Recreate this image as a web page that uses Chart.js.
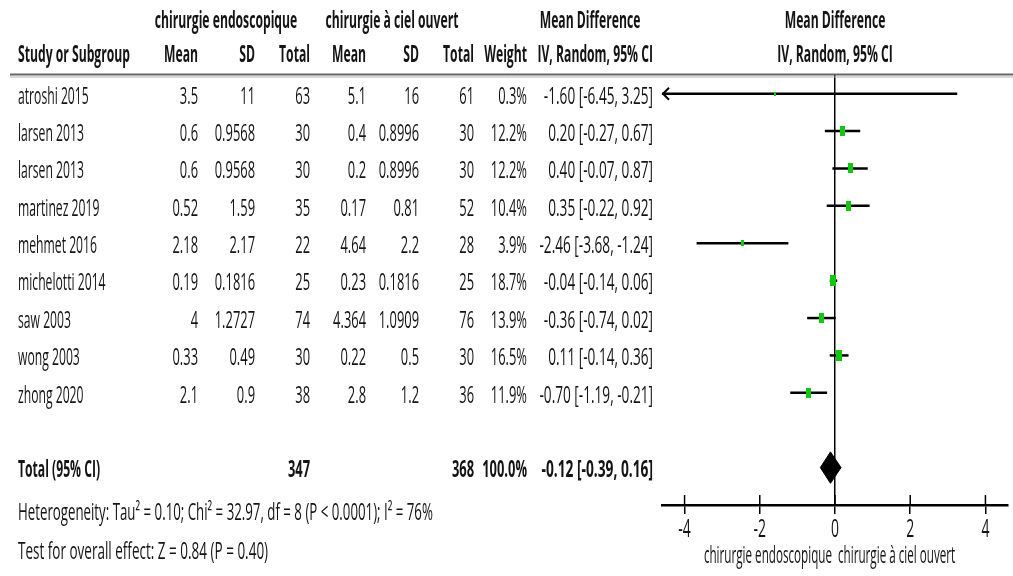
<!DOCTYPE html>
<html>
<head>
<meta charset="utf-8">
<script src="https://cdn.jsdelivr.net/npm/chart.js@4/dist/chart.umd.min.js"></script>
<style>
  body { margin: 0; background: #fff; }
  canvas { display: block; }
</style>
</head>
<body>
<canvas id="chart" width="1013" height="576"></canvas>
<script>
const studies = ["atroshi 2015", "larsen 2013", "larsen 2013", "martinez 2019", "mehmet 2016",
  "michelotti 2014", "saw 2003", "wong 2003", "zhong 2020"];
const endoMean = [3.5, 0.6, 0.6, 0.52, 2.18, 0.19, 4, 0.33, 2.1];
const endoSd = [11, 0.9568, 0.9568, 1.59, 2.17, 0.1816, 1.2727, 0.49, 0.9];
const endoN = [63, 30, 30, 35, 22, 25, 74, 30, 38];
const openMean = [5.1, 0.4, 0.2, 0.17, 4.64, 0.23, 4.364, 0.22, 2.8];
const openSd = [16, 0.8996, 0.8996, 0.81, 2.2, 0.1816, 1.0909, 0.5, 1.2];
const openN = [61, 30, 30, 52, 28, 25, 76, 30, 36];
const weight = [0.3, 12.2, 12.2, 10.4, 3.9, 18.7, 13.9, 16.5, 11.9];
const md = [-1.60, 0.20, 0.40, 0.35, -2.46, -0.04, -0.36, 0.11, -0.70];
const ciLow = [-6.45, -0.27, -0.07, -0.22, -3.68, -0.14, -0.74, -0.14, -1.19];
const ciHigh = [3.25, 0.67, 0.87, 0.92, -1.24, 0.06, 0.02, 0.36, -0.21];

const totalEndoN = 347;
const totalOpenN = 368;
const totalWeight = 100.0;
const totalMd = -0.12;
const totalLow = -0.39;
const totalHigh = 0.16;

const xTicks = [-4, -2, 0, 2, 4];
const heterogeneity = "Heterogeneity: Tau² = 0.10; Chi² = 32.97, df = 8 (P < 0.0001); I² = 76%";
const overallTest = "Test for overall effect: Z = 0.84 (P = 0.40)";
const favoursLeft = "chirurgie endoscopique";
const favoursRight = "chirurgie à ciel ouvert";

const totalRow = studies.length + 1;
const green = "#10c810";
const ink = "#141414";
const FONT = '"Open Sans", "Liberation Sans", sans-serif';

// small green boxes, size follows study weight
function marker(w) {
  const c = document.createElement("canvas");
  const side = Math.max(2, Math.round(Math.sqrt(w) * 1.4));
  c.width = side;
  c.height = Math.round(side * 1.9);
  const g = c.getContext("2d");
  g.fillStyle = green;
  g.fillRect(0, 0, c.width, c.height);
  return c;
}

const fmt = v => v.toFixed(2);
const ciText = (m, l, h) => fmt(m) + " [" + fmt(l) + ", " + fmt(h) + "]";

let SX = null;
// narrow text: regular font squeezed horizontally
function txt(ctx, s, x, y, align, bold, size, wide) {
  ctx.save();
  ctx.font = (bold ? "bold " : "") + size + "px " + FONT;
  ctx.textAlign = align;
  ctx.textBaseline = "middle";
  ctx.fillStyle = ink;
  ctx.translate(x, y);
  ctx.scale(SX * (wide || 1), 1);
  ctx.fillText(s, 0, 0);
  ctx.restore();
}

const cols = [198, 255, 310, 366, 419, 474, 527, 653];

const tablePlugin = {
  id: "forestTable",
  afterDatasetsDraw(chart) {
    const {ctx, scales: {x, y}, chartArea} = chart;
    // arrow when CI runs past the axis
    ciLow.forEach((l, i) => {
      if (l < x.min) {
        const px = chartArea.left, py = y.getPixelForValue(i);
        ctx.save();
        ctx.strokeStyle = "#000";
        ctx.lineWidth = 2;
        ctx.beginPath();
        ctx.moveTo(px + 7, py - 6);
        ctx.lineTo(px + 1, py);
        ctx.lineTo(px + 7, py + 6);
        ctx.stroke();
        ctx.restore();
      }
    });
  },
  afterDraw(chart) {
    const {ctx, scales: {x, y}, chartArea} = chart;
    const fs = 24;
    if (SX === null) {
      ctx.save();
      ctx.font = "bold " + fs + "px " + FONT;
      SX = 112 / ctx.measureText("Study or Subgroup").width;
      ctx.restore();
    }
    const zero = x.getPixelForValue(0);

    // header
    txt(ctx, "chirurgie endoscopique", 226, 21, "center", true, fs);
    txt(ctx, "chirurgie à ciel ouvert", 392, 21, "center", true, fs);
    txt(ctx, "Mean Difference", 590, 21, "center", true, fs);
    txt(ctx, "Mean Difference", zero, 21, "center", true, fs);
    txt(ctx, "Study or Subgroup", 18, 55, "left", true, fs);
    ["Mean", "SD", "Total", "Mean", "SD", "Total", "Weight", "IV, Random, 95% CI"]
      .forEach((h, k) => txt(ctx, h, cols[k], 55, "right", true, fs));
    txt(ctx, "IV, Random, 95% CI", zero, 55, "center", true, fs);

    ctx.save();
    ctx.strokeStyle = "#666";
    ctx.lineWidth = 2;
    ctx.beginPath(); ctx.moveTo(10, 74.5); ctx.lineTo(1013, 74.5); ctx.stroke();
    ctx.strokeStyle = "#b0b0b0";
    ctx.lineWidth = 1;
    ctx.beginPath(); ctx.moveTo(10, 77); ctx.lineTo(1013, 77); ctx.stroke();
    ctx.restore();

    // study rows
    studies.forEach((s, i) => {
      const py = y.getPixelForValue(i) + 3;
      txt(ctx, s, 18, py, "left", false, fs);
      const vals = [endoMean[i], endoSd[i], endoN[i], openMean[i], openSd[i], openN[i]].map(String);
      vals.push(weight[i].toFixed(1) + "%");
      vals.forEach((v, k) => txt(ctx, v, cols[k], py, "right", false, fs, 1.06));
      txt(ctx, ciText(md[i], ciLow[i], ciHigh[i]), cols[7], py, "right", false, fs, 1.12);
    });

    // total row
    const ty = y.getPixelForValue(totalRow) + 3;
    txt(ctx, "Total (95% CI)", 18, ty, "left", true, fs);
    txt(ctx, String(totalEndoN), cols[2], ty, "right", true, fs, 1.06);
    txt(ctx, String(totalOpenN), cols[5], ty, "right", true, fs, 1.06);
    txt(ctx, totalWeight.toFixed(1) + "%", cols[6], ty, "right", true, fs, 1.06);
    txt(ctx, ciText(totalMd, totalLow, totalHigh), cols[7], ty, "right", true, fs, 1.13);

    txt(ctx, heterogeneity, 18, ty + 43, "left", false, fs, 1.09);
    txt(ctx, overallTest, 18, ty + 82, "left", false, fs, 1.11);

    // tick marks above the axis line, and tick labels
    ctx.save();
    ctx.strokeStyle = "#000";
    ctx.lineWidth = 1.5;
    x.ticks.forEach(t => {
      const px = x.getPixelForValue(t.value);
      ctx.beginPath();
      ctx.moveTo(px, chartArea.bottom - 10);
      ctx.lineTo(px, chartArea.bottom);
      ctx.stroke();
      txt(ctx, String(t.value), px, chartArea.bottom + 25, "center", false, 26, 1.06);
    });
    ctx.restore();

    txt(ctx, favoursLeft, zero - 3, 556, "right", false, 23);
    txt(ctx, favoursRight, zero + 3, 556, "left", false, 23);
  }
};

const ciSets = studies.map((s, i) => ({
  label: s,
  data: [{x: ciLow[i], y: i}, {x: ciHigh[i], y: i}],
  showLine: true,
  borderColor: "#000",
  borderWidth: 2.5,
  pointRadius: 0,
  order: 2
}));

const diamondHalf = 0.42;
const diamond = {
  label: "Total",
  data: [
    {x: totalLow, y: totalRow},
    {x: totalMd, y: totalRow - diamondHalf},
    {x: totalHigh, y: totalRow},
    {x: totalMd, y: totalRow + diamondHalf},
    {x: totalLow, y: totalRow}
  ],
  showLine: true,
  borderColor: "#000",
  backgroundColor: "#000",
  borderWidth: 1,
  fill: "shape",
  pointRadius: 0,
  tension: 0,
  order: 1
};

const points = {
  label: "Mean difference",
  data: md.map((v, i) => ({x: v, y: i})),
  pointStyle: weight.map(marker),
  pointRadius: 3,
  backgroundColor: green,
  borderColor: green,
  order: 0
};

new Chart(document.getElementById("chart"), {
  type: "scatter",
  data: {datasets: [points, diamond, ...ciSets]},
  options: {
    responsive: false,
    animation: false,
    layout: {padding: {left: 662, top: 75, right: 0, bottom: 0}},
    plugins: {legend: {display: false}, tooltip: {enabled: false}},
    scales: {
      x: {
        type: "linear",
        min: -4.6,
        max: 4.6,
        afterBuildTicks: s => { s.ticks = xTicks.map(v => ({value: v})); },
        afterFit: s => { s.height = 71; },
        ticks: {display: false, includeBounds: false},
        border: {display: true, color: "#000", width: 2.5},
        grid: {
          color: c => (c.tick && c.tick.value === 0 ? "#000" : "transparent"),
          lineWidth: 1.5,
          tickColor: "#000",
          tickWidth: 1.5,
          tickLength: 9
        }
      },
      y: {
        type: "linear",
        reverse: true,
        min: -0.5,
        max: 11,
        display: false
      }
    }
  },
  plugins: [tablePlugin]
});
</script>
</body>
</html>
